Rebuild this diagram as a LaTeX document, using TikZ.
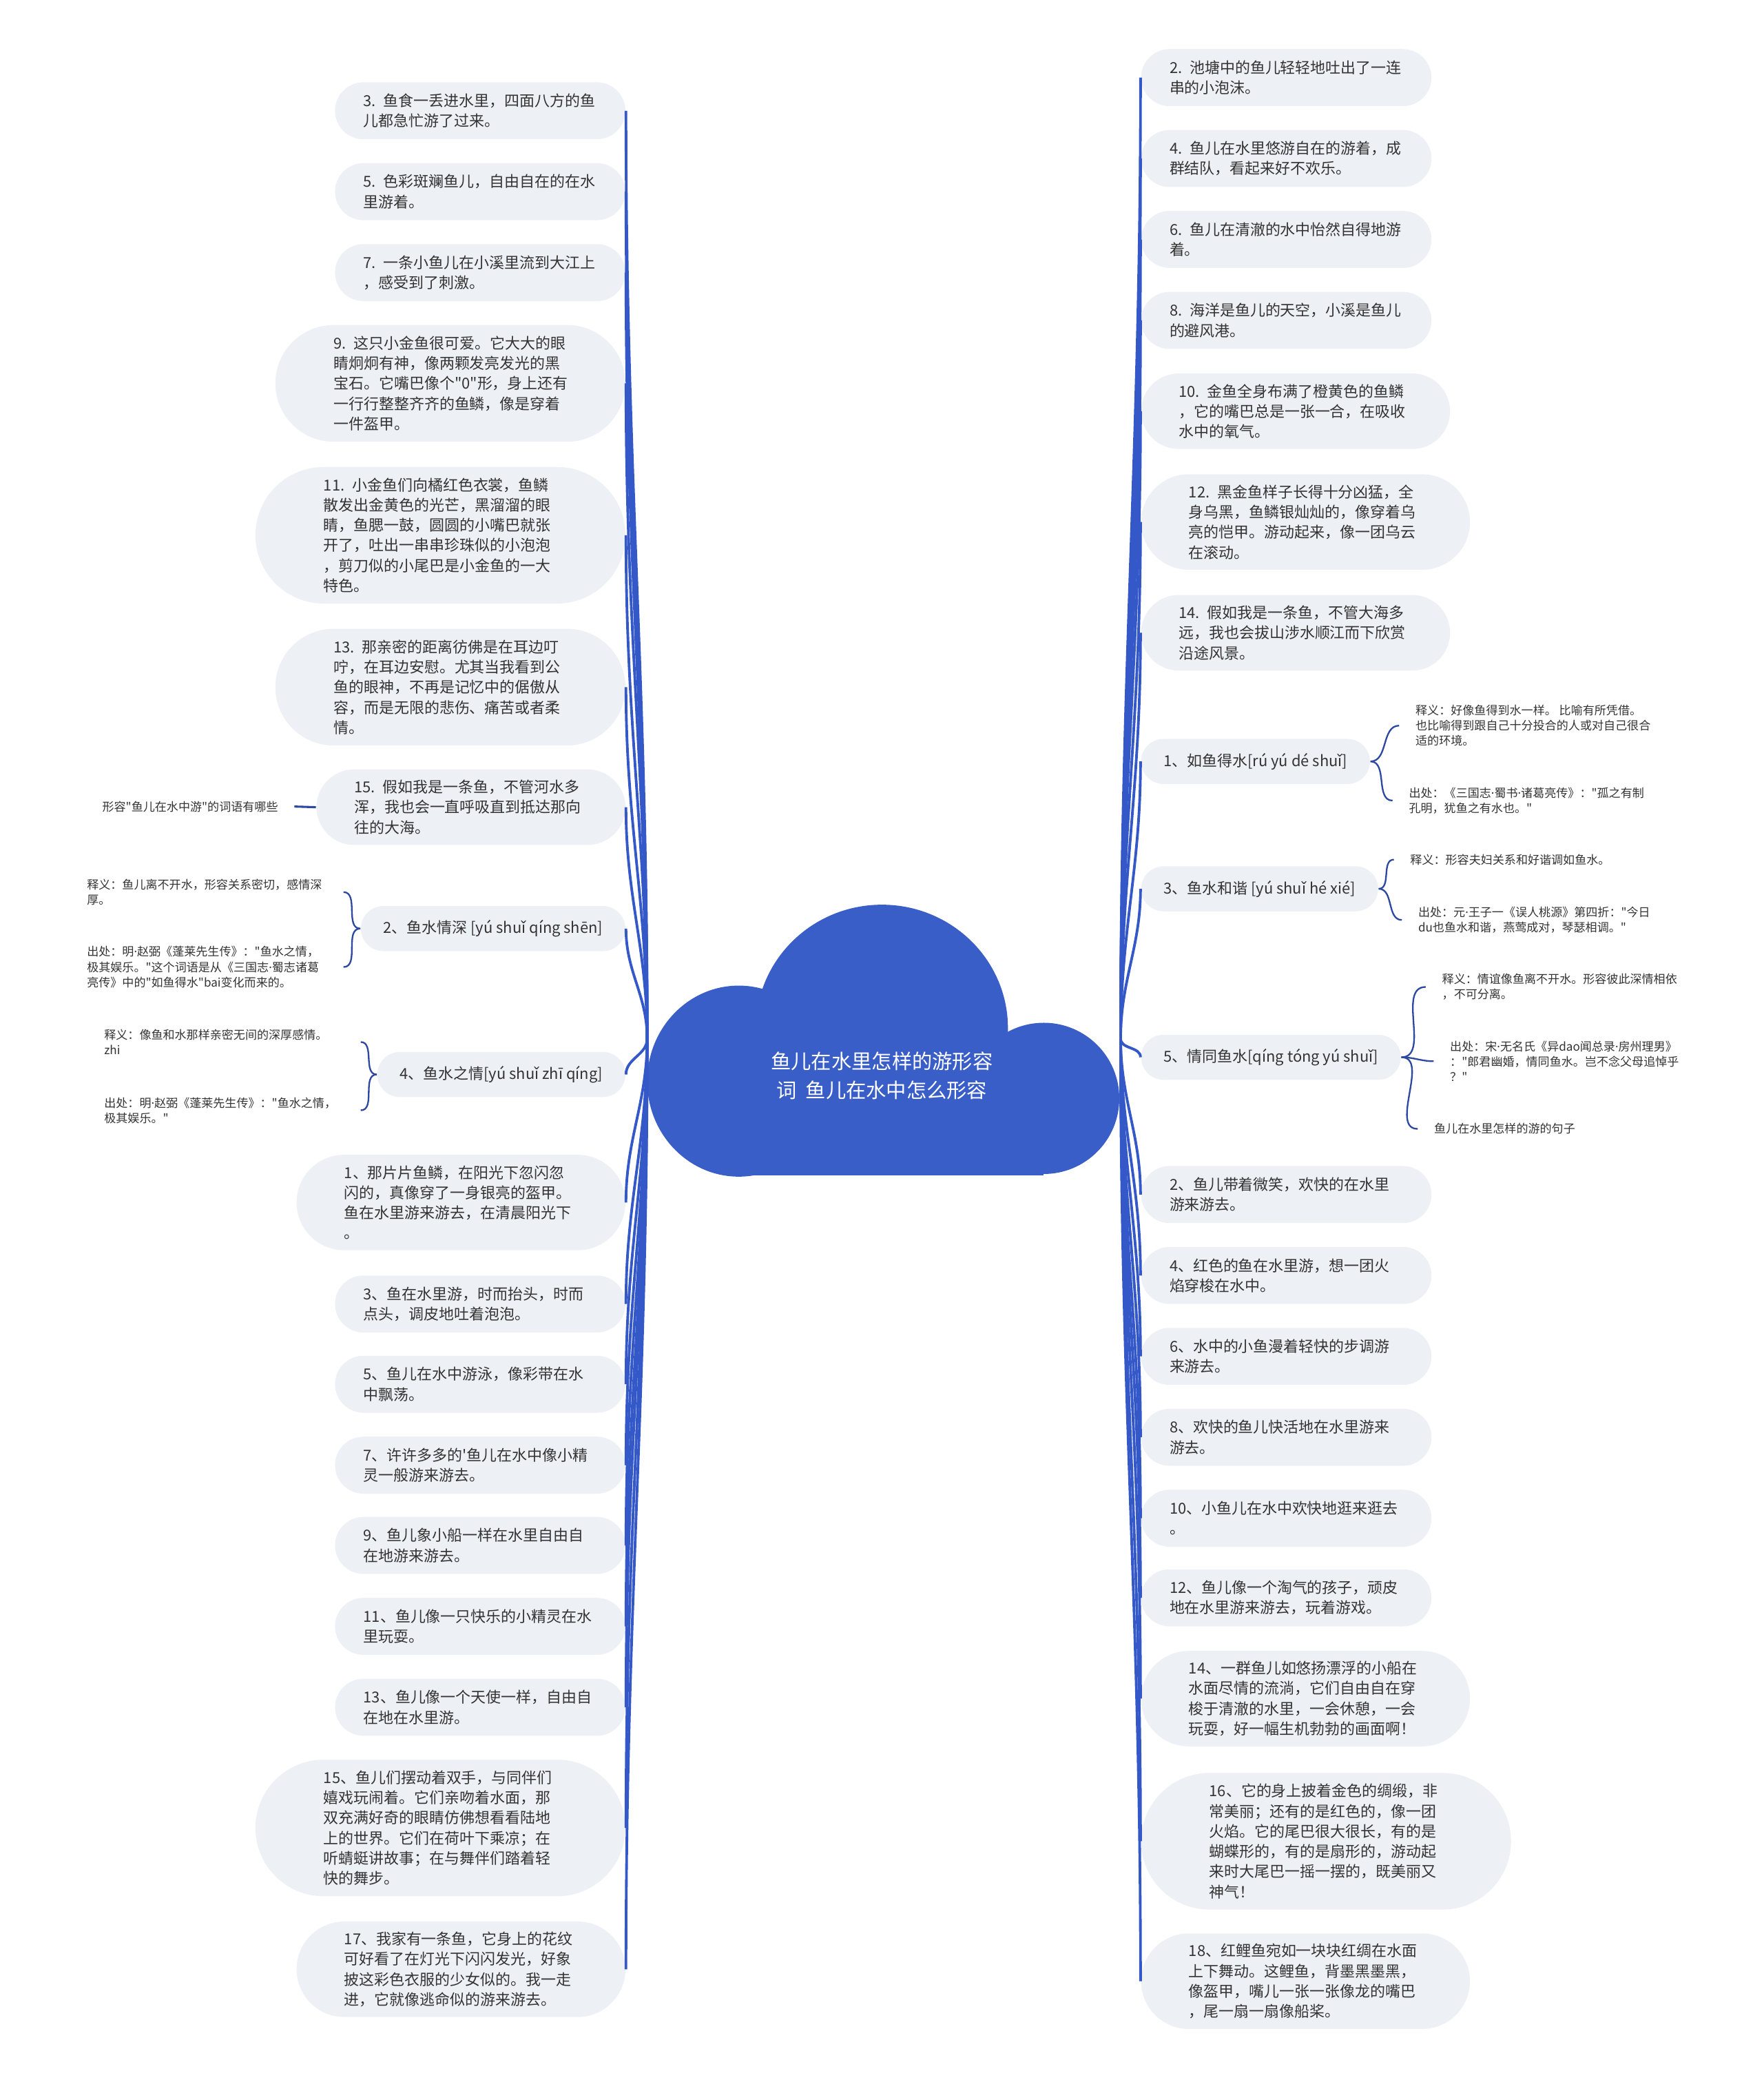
\documentclass[tikz,border=0pt]{standalone}
\usepackage{fontspec}
\newfontfamily\cjk{Noto Sans CJK SC}
\newfontfamily\latinfont{Noto Sans}
\definecolor{cloudblue}{RGB}{58,94,200}
\definecolor{branchblue}{RGB}{52,88,200}
\definecolor{twigblue}{RGB}{45,72,160}
\definecolor{leafbg}{RGB}{237,240,245}
\definecolor{inkgray}{RGB}{51,51,51}
\newcommand{\leaffont}{\cjk\fontsize{5.7pt}{7.6pt}\selectfont}
\newcommand{\notefont}{\cjk\fontsize{4.43pt}{5.75pt}\selectfont}
\newcommand{\rootfont}{\cjk\fontsize{7.6pt}{11pt}\selectfont}
\newcommand{\mdot}{{\latinfont ·}}
\tikzset{
  leaf/.style={fill=leafbg, text=inkgray, font=\leaffont, align=left,
    rounded corners=#1, inner xsep=#1, inner ysep=1pt, minimum height=2*#1},
  wrap/.style={text width=88pt},
  pill1/.style={leaf=8.5pt},
  pill2/.style={leaf=10.75pt, wrap},
  pill3/.style={leaf=14.25pt, wrap},
  pill4/.style={leaf=18pt, wrap},
  pill5/.style={leaf=22pt, wrap},
  pill6/.style={leaf=25.75pt, wrap},
  note/.style={text=inkgray, font=\notefont, align=left, inner xsep=6pt, inner ysep=1pt},
  branch/.style={draw=branchblue, line width=1pt},
  twig/.style={draw=twigblue, line width=0.6pt},
  rootlabel/.style={text=white, font=\rootfont, align=center},
}
\begin{document}
\begin{tikzpicture}[x=0.5pt, y=-0.5pt]
  \useasboundingbox (0,0) rectangle (1330,1568);
  % cloud
  \fill[cloudblue] (665,775) ellipse [x radius=95, y radius=93];
  \fill[cloudblue] (557,815) ellipse [x radius=69, y radius=72];
  \fill[cloudblue] (787,828) ellipse [x radius=57, y radius=57];
  \fill[cloudblue] (557,780) rectangle (787,886);
  \node[rootlabel] (title) at (665,811) {鱼儿在水里怎样的游形容\\词\ \ 鱼儿在水中怎么形容};
  \coordinate (lroot) at (488,783);
  \coordinate (rroot) at (845,783);
  % left leaves
  \node[pill2, anchor=east] (l1) at (472,83.5) {3. 鱼食一丢进水里，四面八方的鱼\\儿都急忙游了过来。};
  \node[pill2, anchor=east] (l2) at (472,144.5) {5. 色彩斑斓鱼儿，自由自在的在水\\里游着。};
  \node[pill2, anchor=east] (l3) at (472,205.5) {7. 一条小鱼儿在小溪里流到大江上\\，感受到了刺激。};
  \node[pill5, anchor=east] (l4) at (472,289) {9. 这只小金鱼很可爱。它大大的眼\\睛炯炯有神，像两颗发亮发光的黑\\宝石。它嘴巴像个"0"形，身上还有\\一行行整整齐齐的鱼鳞，像是穿着\\一件盔甲。};
  \node[pill6, anchor=east] (l5) at (472,403.5) {11. 小金鱼们向橘红色衣裳，鱼鳞\\散发出金黄色的光芒，黑溜溜的眼\\睛，鱼腮一鼓，圆圆的小嘴巴就张\\开了，吐出一串串珍珠似的小泡泡\\，剪刀似的小尾巴是小金鱼的一大\\特色。};
  \node[pill5, anchor=east] (l6) at (472,518) {13. 那亲密的距离彷佛是在耳边叮\\咛，在耳边安慰。尤其当我看到公\\鱼的眼神，不再是记忆中的倨傲从\\容，而是无限的悲伤、痛苦或者柔\\情。};
  \node[pill3, anchor=east] (l7) at (472,608.5) {15. 假如我是一条鱼，不管河水多\\浑，我也会一直呼吸直到抵达那向\\往的大海。};
  \node[pill1, anchor=east] (l8) at (472,700) {2、鱼水情深 [yú shuǐ qíng shēn]};
  \node[pill1, anchor=east] (l9) at (472,810) {4、鱼水之情[yú shuǐ zhī qíng]};
  \node[pill4, anchor=east] (l10) at (472,906.5) {1、那片片鱼鳞，在阳光下忽闪忽\\闪的，真像穿了一身银亮的盔甲。\\鱼在水里游来游去，在清晨阳光下\\。};
  \node[pill2, anchor=east] (l11) at (472,983) {3、鱼在水里游，时而抬头，时而\\点头，调皮地吐着泡泡。};
  \node[pill2, anchor=east] (l12) at (472,1043.5) {5、鱼儿在水中游泳，像彩带在水\\中飘荡。};
  \node[pill2, anchor=east] (l13) at (472,1104.5) {7、许许多多的'鱼儿在水中像小精\\灵一般游来游去。};
  \node[pill2, anchor=east] (l14) at (472,1165) {9、鱼儿象小船一样在水里自由自\\在地游来游去。};
  \node[pill2, anchor=east] (l15) at (472,1226) {11、鱼儿像一只快乐的小精灵在水\\里玩耍。};
  \node[pill2, anchor=east] (l16) at (472,1287) {13、鱼儿像一个天使一样，自由自\\在地在水里游。};
  \node[pill6, anchor=east] (l17) at (472,1378) {15、鱼儿们摆动着双手，与同伴们\\嬉戏玩闹着。它们亲吻着水面，那\\双充满好奇的眼睛仿佛想看看陆地\\上的世界。它们在荷叶下乘凉；在\\听蜻蜓讲故事；在与舞伴们踏着轻\\快的舞步。};
  \node[pill4, anchor=east] (l18) at (472,1484.5) {17、我家有一条鱼，它身上的花纹\\可好看了在灯光下闪闪发光，好象\\披这彩色衣服的少女似的。我一走\\进，它就像逃命似的游来游去。};
  % left notes
  \node[note, anchor=east] (l7a) at (222,608) {形容"鱼儿在水中游"的词语有哪些};
  \node[note, anchor=east, text width=90.5pt] (l8a) at (259,672.5) {释义：鱼儿离不开水，形容关系密切，感情深\\厚。};
  \node[note, anchor=east, text width=90.5pt] (l8b) at (259,729) {出处：明\mdot 赵弼《蓬莱先生传》："鱼水之情，\\极其娱乐。"这个词语是从《三国志\mdot 蜀志诸葛\\亮传》中的"如鱼得水"bai变化而来的。};
  \node[note, anchor=east, text width=90.5pt] (l9a) at (272,785.5) {释义：像鱼和水那样亲密无间的深厚感情。\\zhi};
  \node[note, anchor=east, text width=90.5pt] (l9b) at (272,837) {出处：明\mdot 赵弼《蓬莱先生传》："鱼水之情，\\极其娱乐。"};
  % right leaves
  \node[pill2, anchor=west] (r1) at (860,58.5) {2. 池塘中的鱼儿轻轻地吐出了一连\\串的小泡沫。};
  \node[pill2, anchor=west] (r2) at (860,119.5) {4. 鱼儿在水里悠游自在的游着，成\\群结队，看起来好不欢乐。};
  \node[pill2, anchor=west] (r3) at (860,180.5) {6. 鱼儿在清澈的水中怡然自得地游\\着。};
  \node[pill2, anchor=west] (r4) at (860,241.5) {8. 海洋是鱼儿的天空，小溪是鱼儿\\的避风港。};
  \node[pill3, anchor=west] (r5) at (860,310) {10. 金鱼全身布满了橙黄色的鱼鳞\\，它的嘴巴总是一张一合，在吸收\\水中的氧气。};
  \node[pill4, anchor=west] (r6) at (860,393.5) {12. 黑金鱼样子长得十分凶猛，全\\身乌黑，鱼鳞银灿灿的，像穿着乌\\亮的恺甲。游动起来，像一团乌云\\在滚动。};
  \node[pill3, anchor=west] (r7) at (860,477) {14. 假如我是一条鱼，不管大海多\\远，我也会拔山涉水顺江而下欣赏\\沿途风景。};
  \node[pill1, anchor=west] (r8) at (860,574) {1、如鱼得水[rú yú dé shuǐ]};
  \node[pill1, anchor=west] (r9) at (860,670) {3、鱼水和谐 [yú shuǐ hé xié]};
  \node[pill1, anchor=west] (r10) at (860,797) {5、情同鱼水[qíng tóng yú shuǐ]};
  \node[pill2, anchor=west] (r11) at (860,900.5) {2、鱼儿带着微笑，欢快的在水里\\游来游去。};
  \node[pill2, anchor=west] (r12) at (860,961.5) {4、红色的鱼在水里游，想一团火\\焰穿梭在水中。};
  \node[pill2, anchor=west] (r13) at (860,1022.5) {6、水中的小鱼漫着轻快的步调游\\来游去。};
  \node[pill2, anchor=west] (r14) at (860,1083.5) {8、欢快的鱼儿快活地在水里游来\\游去。};
  \node[pill2, anchor=west] (r15) at (860,1144.5) {10、小鱼儿在水中欢快地逛来逛去\\。};
  \node[pill2, anchor=west] (r16) at (860,1204.5) {12、鱼儿像一个淘气的孩子，顽皮\\地在水里游来游去，玩着游戏。};
  \node[pill4, anchor=west] (r17) at (860,1280.5) {14、一群鱼儿如悠扬漂浮的小船在\\水面尽情的流淌，它们自由自在穿\\梭于清澈的水里，一会休憩，一会\\玩耍，好一幅生机勃勃的画面啊！};
  \node[pill6, anchor=west] (r18) at (860,1388) {16、它的身上披着金色的绸缎，非\\常美丽；还有的是红色的，像一团\\火焰。它的尾巴很大很长，有的是\\蝴蝶形的，有的是扇形的，游动起\\来时大尾巴一摇一摆的，既美丽又\\神气！};
  \node[pill4, anchor=west] (r19) at (860,1493.5) {18、红鲤鱼宛如一块块红绸在水面\\上下舞动。这鲤鱼，背墨黑墨黑，\\像盔甲，嘴儿一张一张像龙的嘴巴\\，尾一扇一扇像船桨。};
  % right notes
  \node[note, anchor=west] (r8a) at (1055,547) {释义：好像鱼得到水一样。 比喻有所凭借。\\也比喻得到跟自己十分投合的人或对自己很合\\适的环境。};
  \node[note, anchor=west] (r8b) at (1050,603.5) {出处：《三国志\mdot 蜀书\mdot 诸葛亮传》："孤之有制\\孔明，犹鱼之有水也。"};
  \node[note, anchor=west] (r9a) at (1051,648) {释义：形容夫妇关系和好谐调如鱼水。};
  \node[note, anchor=west] (r9b) at (1057,693.5) {出处：元\mdot 王子一《误人桃源》第四折："今日\\du也鱼水和谐，燕莺成对，琴瑟相调。"};
  \node[note, anchor=west] (r10a) at (1075,744) {释义：情谊像鱼离不开水。形容彼此深情相依\\，不可分离。};
  \node[note, anchor=west] (r10b) at (1081,800) {出处：宋\mdot 无名氏《异dao闻总录\mdot 房州理男》\\："郎君幽婚，情同鱼水。岂不念父母追悼乎\\？"};
  \node[note, anchor=west] (r10c) at (1069,851) {鱼儿在水里怎样的游的句子};
  % main branches
  \foreach \n in {l1,l2,l3,l4,l5,l6,l7,l8}
    \draw[branch] (lroot) to[out=90, in=-90] (\n.east);
  \foreach \n in {l9,l10,l11,l12,l13,l14,l15,l16,l17,l18}
    \draw[branch] (lroot) to[out=-90, in=90] (\n.east);
  \foreach \n in {r1,r2,r3,r4,r5,r6,r7,r8,r9}
    \draw[branch] (rroot) to[out=90, in=-90] (\n.west);
  \foreach \n in {r10,r11,r12,r13,r14,r15,r16,r17,r18,r19}
    \draw[branch] (rroot) to[out=-90, in=90] (\n.west);
  % braces to the notes
  \draw[twig, line width=0.8pt] (l7.west) -- (l7a.east);
  \foreach \n in {l8a,l8b}
    \draw[twig] (l8.west) to[out=180, in=0] (\n.east);
  \foreach \n in {l9a,l9b}
    \draw[twig] (l9.west) to[out=180, in=0] (\n.east);
  \foreach \n in {r8a,r8b}
    \draw[twig] (r8.east) to[out=0, in=180] (\n.west);
  \foreach \n in {r9a,r9b}
    \draw[twig] (r9.east) to[out=0, in=180] (\n.west);
  \foreach \n in {r10a,r10b,r10c}
    \draw[twig] (r10.east) to[out=0, in=180] (\n.west);
\end{tikzpicture}
\end{document}
